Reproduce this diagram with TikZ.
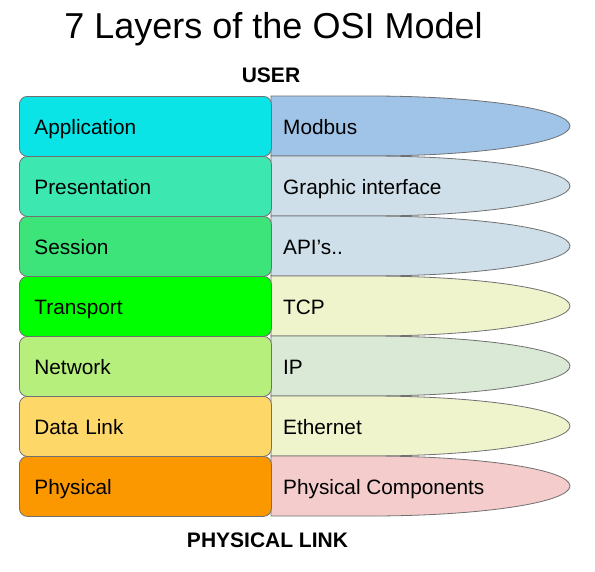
\documentclass[tikz,border=0pt]{standalone}
\usepackage{fontspec}
\setmainfont{Liberation Sans}
\definecolor{linegray}{HTML}{707070}
\definecolor{cApp}{HTML}{0BE4E6}
\definecolor{cPres}{HTML}{3DE8B0}
\definecolor{cSess}{HTML}{3CE47A}
\definecolor{cTrans}{HTML}{00FF00}
\definecolor{cNet}{HTML}{B6EF7C}
\definecolor{cData}{HTML}{FDD767}
\definecolor{cPhys}{HTML}{FB9800}
\definecolor{rModbus}{HTML}{9FC4E7}
\definecolor{rBlue}{HTML}{CFDFE9}
\definecolor{rYellow}{HTML}{EFF4CC}
\definecolor{rGreen}{HTML}{D9E9D5}
\definecolor{rPink}{HTML}{F4CCCC}
\begin{document}
\begin{tikzpicture}[x=1pt,y=-1pt,
  layerbox/.style={draw=linegray, line width=0.8pt, rounded corners=8pt,
    minimum width=252pt, minimum height=60pt, text width=222pt, inner xsep=15pt,
    align=left, text height=17pt, text depth=0.4pt,
    font=\fontsize{20.8}{24}\selectfont, anchor=north west},
  rshape/.style={draw=linegray, line width=0.8pt},
  rlabel/.style={anchor=base west, inner sep=0pt, font=\fontsize{20.8}{24}\selectfont},
  headlabel/.style={anchor=base, inner sep=0pt, font=\fontsize{21}{24}\selectfont\bfseries}]
\useasboundingbox (0,0) rectangle (595,571);
\fill[white] (0,0) rectangle (595,571);

\node[anchor=base, inner sep=0pt, font=\fontsize{36}{40}\selectfont] (title) at (273.5,38) {7 Layers of the OSI Model};
\node[headlabel] (user) at (271,82) {USER};

\foreach \y/\c/\t/\n in {96/rModbus/Modbus/r1, 156/rBlue/Graphic interface/r2, 216/rBlue/API’s../r3,
  276/rYellow/TCP/r4, 336/rGreen/IP/r5, 396/rYellow/Ethernet/r6, 456/rPink/Physical Components/r7}{
  \path[rshape, fill=\c] (271,\y) -- (370,\y) arc[start angle=-90, end angle=90, x radius=200, y radius=30] -- (271,\y+60) -- cycle;
  \node[rlabel] (\n) at (283,\y+38.3) {\t};
}

\node[layerbox, fill=cApp] (app) at (19,96) {Application};
\node[layerbox, fill=cPres] (pres) at (19,156) {Presentation};
\node[layerbox, fill=cSess] (sess) at (19,216) {Session};
\node[layerbox, fill=cTrans] (trans) at (19,276) {Transport};
\node[layerbox, fill=cNet] (net) at (19,336) {Network};
\node[layerbox, fill=cData] (data) at (19,396) {Data Link};
\node[layerbox, fill=cPhys] (phys) at (19,456) {Physical};

\node[headlabel] (plink) at (267.5,547) {PHYSICAL LINK};
\end{tikzpicture}
\end{document}
